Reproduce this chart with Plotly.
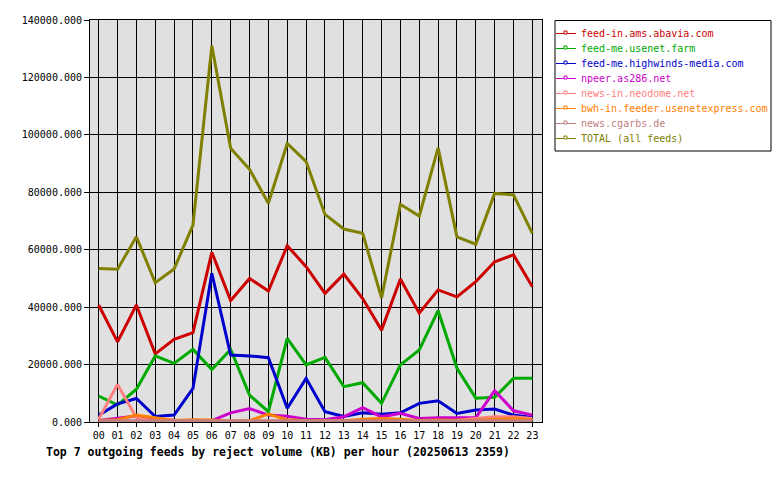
import plotly.graph_objects as go

hours = [f"{h:02d}" for h in range(24)]

abavia = [40750, 27900, 40750, 23700, 28800, 31100, 59100, 42300, 50000, 45600, 61400, 54100,
          44800, 51500, 43000, 32000, 49800, 37900, 46000, 43600, 48900, 55800, 58200, 47100]
usenet_farm = [9050, 5900, 11400, 23000, 20400, 25300, 18300, 25300, 9400, 3600, 29100, 19900,
               22500, 12300, 13700, 6500, 19900, 25100, 38800, 18700, 8300, 8600, 15200, 15200]
highwinds = [2400, 6300, 8200, 1900, 2400, 11700, 51800, 23300, 23000, 22400, 4800, 15200,
             3600, 1900, 3200, 2700, 3200, 6500, 7400, 3000, 4200, 4500, 2400, 1600]
npeer = [500, 1200, 2100, 1000, 600, 500, 500, 3200, 4700, 2400, 2000, 1000,
         800, 1800, 5000, 1800, 3000, 1200, 1500, 1500, 1500, 10900, 3900, 2400]
neodome = [1000, 13100, 1500, 300, 300, 300, 300, 300, 300, 300, 300, 300,
           300, 300, 300, 300, 300, 300, 500, 600, 1200, 1800, 1800, 1200]
bwh = [500, 800, 2400, 1500, 500, 800, 700, 300, 500, 2800, 800, 500,
       400, 400, 1000, 1200, 1000, 500, 700, 600, 500, 1000, 1200, 800]
cgarbs = [400, 400, 400, 400, 400, 400, 400, 400, 400, 400, 400, 400,
          400, 400, 400, 400, 400, 400, 400, 400, 400, 400, 400, 400]
total = [53500, 53200, 64500, 48500, 53300, 68600, 131000, 95300, 88000, 76200, 97000, 90700,
         72300, 67200, 65700, 43200, 75800, 71700, 95500, 64500, 61900, 79600, 79100, 65700]

names = ["feed-in.ams.abavia.com", "feed-me.usenet.farm", "feed-me.highwinds-media.com",
         "npeer.as286.net", "news-in.neodome.net", "bwh-in.feeder.usenetexpress.com",
         "news.cgarbs.de", "TOTAL (all feeds)"]
series = [abavia, usenet_farm, highwinds, npeer, neodome, bwh, cgarbs, total]
colors = ["#cc0000", "#00aa00", "#0000cc", "#cc00cc", "#ff8080", "#ff8000", "#c08080", "#808000"]

font = "DejaVu Sans Mono, Liberation Mono, monospace"

fig = go.Figure()
for name, vals, col in zip(names, series, colors):
    fig.add_trace(go.Scatter(
        x=hours, y=vals, name=name, mode="lines",
        line=dict(color=col, width=3), showlegend=False,
    ))

# plot area in pixels: x 90..542, y 20..422
PL, PR, PT, PB = 90, 542, 20, 422
def px(x):
    return (x - PL) / (PR - PL)
def py(y):
    return (PB - y) / (PB - PT)

shapes = []
annotations = []
# legend box
shapes.append(dict(type="rect", xref="paper", yref="paper",
                   x0=px(555), x1=px(771), y0=py(20.5), y1=py(151),
                   line=dict(color="black", width=1), fillcolor="white", layer="above"))
for i, (name, col) in enumerate(zip(names, colors)):
    yc = 33.5 + 15 * i
    shapes.append(dict(type="line", xref="paper", yref="paper",
                       x0=px(556), x1=px(576), y0=py(yc), y1=py(yc),
                       line=dict(color=col, width=1), layer="above"))
    shapes.append(dict(type="rect", xref="paper", yref="paper",
                       x0=px(564), x1=px(567), y0=py(yc + 0.5), y1=py(yc - 2.5),
                       line=dict(color=col, width=1), fillcolor="white", layer="above"))
    annotations.append(dict(text=name, xref="paper", yref="paper",
                            x=px(579), y=py(yc), xanchor="left", yanchor="middle",
                            showarrow=False, font=dict(family=font, size=10, color=col)))

fig.update_layout(
    width=780, height=480,
    margin=dict(l=90, r=238, t=20, b=58, autoexpand=False),
    paper_bgcolor="white",
    plot_bgcolor="#e0e0e0",
    font=dict(family=font, size=10, color="black"),
    showlegend=False,
    shapes=shapes,
    annotations=annotations,
    title=dict(
        text="<b>Top 7 outgoing feeds by reject volume (KB) per hour (20250613 2359)</b>",
        x=46/780, xanchor="left", xref="container",
        y=1 - 452/480, yanchor="middle", yref="container",
        font=dict(family=font, size=11.5, color="black"),
    ),
    xaxis=dict(
        type="category", range=[-0.46, 23.51],
        showgrid=True, gridcolor="black", gridwidth=1,
        showline=True, linecolor="black", linewidth=1, mirror=True,
        ticks="outside", ticklen=4, tickcolor="black",
        tickfont=dict(family=font, size=10),
        zeroline=False,
    ),
    yaxis=dict(
        range=[0, 140000], dtick=20000, tickformat=".3f",
        showgrid=True, gridcolor="black", gridwidth=1,
        showline=True, linecolor="black", linewidth=1, mirror=True,
        ticks="outside", ticklen=5, tickcolor="black",
        tickfont=dict(family=font, size=10),
        zeroline=False,
    ),
)

fig.write_html("out.html")
